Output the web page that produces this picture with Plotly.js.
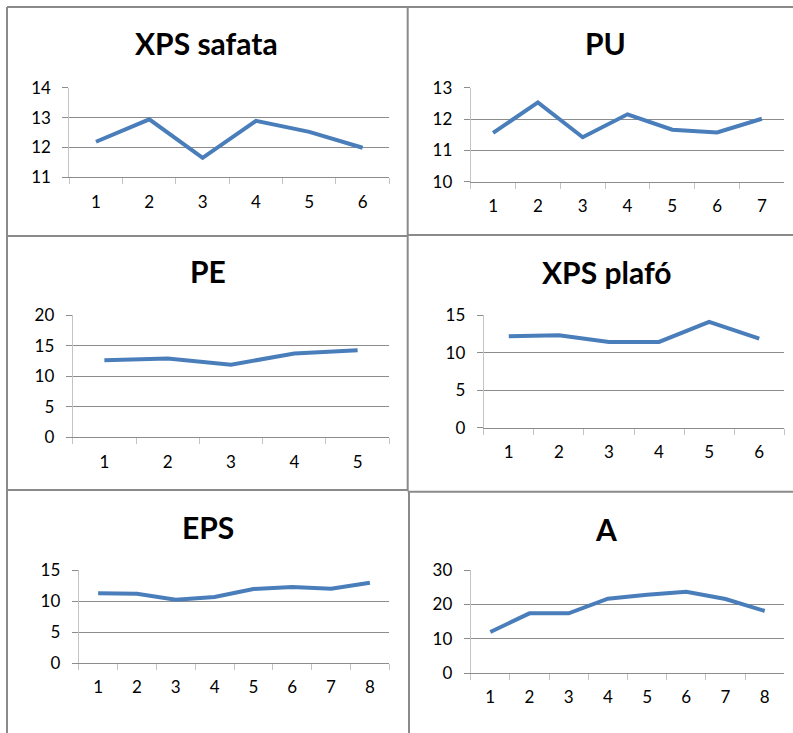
<!DOCTYPE html>
<html>
<head>
<meta charset="utf-8">
<script src="https://cdn.plot.ly/plotly-3.0.1.min.js"></script>
<style>
  html, body { margin: 0; padding: 0; background: #ffffff; }
  #chart { width: 793px; height: 733px; }
</style>
</head>
<body>
<div id="chart"></div>
<script>
// Panel titles, in reading order (left to right, top to bottom)
const panelTitles = ['XPS safata', 'PU', 'PE', 'XPS plafó', 'EPS', 'A'];

// Category tick labels along each horizontal axis
const categoryLabels = ['1', '2', '3', '4', '5', '6', '7', '8'];

// Measured values per panel
const safataValues = [12.19, 12.94, 11.65, 12.89, 12.52, 11.99];
const puValues     = [11.56, 12.53, 11.42, 12.15, 11.66, 11.57, 12.01];
const peValues     = [12.62, 12.90, 11.91, 13.72, 14.26];
const plafoValues  = [12.19, 12.33, 11.44, 11.44, 14.11, 11.88];
const epsValues    = [11.28, 11.22, 10.25, 10.69, 11.98, 12.30, 12.03, 13.00];
const aValues      = [11.94, 17.38, 17.38, 21.65, 22.80, 23.69, 21.55, 18.06];

// Value-axis ranges and steps
const yRanges = [[11, 14], [10, 13], [0, 20], [0, 15], [0, 15], [0, 30]];
const ySteps  = [1, 1, 5, 5, 5, 10];

const W = 793, H = 733;
const fx = p => p / W;
const fy = p => 1 - p / H;

// Plot-area boxes in pixels: [left, right, top, bottom]
const boxes = [
  [69.3, 389.3, 87.7, 177.3],
  [470.7, 784.3, 87.7, 181.7],
  [72.7, 389.3, 315.3, 437.3],
  [483.7, 784.3, 315.3, 427.7],
  [78.7, 389.3, 570.3, 663.0],
  [470.7, 784.3, 570.0, 673.0]
];

// Title centres in pixels: [x, y]
const titlePos = [
  [207, 43], [605, 43], [208, 271], [606, 271.5], [208.5, 527], [606, 529]
];

const series = [safataValues, puValues, peValues, plafoValues, epsValues, aValues];

const LINE_BLUE = '#4a7ebb';
const GRID = '#8c8c8c';
const AXIS_LIGHT = '#c4c4c4';
const FONT = 'Lato, "Open Sans", sans-serif';

const traces = [];
const layout = {
  width: W, height: H,
  margin: {l: 0, r: 0, t: 0, b: 0},
  paper_bgcolor: '#ffffff',
  plot_bgcolor: '#ffffff',
  showlegend: false,
  font: {family: FONT, color: '#000000', size: 17},
  annotations: [],
  shapes: []
};

series.forEach((vals, i) => {
  const n = i + 1;
  const xs = n === 1 ? '' : String(n);
  const cats = categoryLabels.slice(0, vals.length);
  traces.push({
    type: 'scatter',
    mode: 'lines',
    x: cats,
    y: vals,
    xaxis: 'x' + xs,
    yaxis: 'y' + xs,
    line: {color: LINE_BLUE, width: 4},
    hoverinfo: 'skip'
  });
  const b = boxes[i];
  layout['xaxis' + xs] = {
    type: 'category',
    domain: [fx(b[0]), fx(b[1])],
    anchor: 'y' + xs,
    range: [-0.5, vals.length - 0.5],
    tickson: 'boundaries',
    ticks: 'outside',
    ticklen: 6,
    tickwidth: 1,
    tickcolor: AXIS_LIGHT,
    showline: true,
    linecolor: GRID,
    linewidth: 1,
    showgrid: false,
    zeroline: false,
    ticklabelstandoff: 9,
    tickfont: {family: FONT, size: 17, color: '#000000'},
    fixedrange: true
  };
  layout['yaxis' + xs] = {
    domain: [fy(b[3]), fy(b[2])],
    anchor: 'x' + xs,
    range: yRanges[i],
    dtick: ySteps[i],
    tick0: 0,
    ticks: 'outside',
    ticklen: 6,
    tickwidth: 1,
    tickcolor: GRID,
    showline: true,
    linecolor: AXIS_LIGHT,
    linewidth: 1,
    showgrid: true,
    gridcolor: GRID,
    gridwidth: 1,
    zeroline: false,
    ticklabelstandoff: 8,
    tickfont: {family: FONT, size: 17, color: '#000000'},
    fixedrange: true
  };
  layout.annotations.push({
    text: '<b>' + panelTitles[i] + '</b>',
    xref: 'paper', yref: 'paper',
    x: fx(titlePos[i][0]), y: fy(titlePos[i][1]),
    xanchor: 'center', yanchor: 'middle',
    showarrow: false,
    font: {family: FONT, size: 30, color: '#000000'}
  });
});

// Cell frame lines
const BORDER = '#8a8a8a';
const seg = (x0, y0, x1, y1) => ({
  type: 'line', xref: 'paper', yref: 'paper',
  x0: fx(x0), y0: fy(y0), x1: fx(x1), y1: fy(y1),
  line: {color: BORDER, width: 2}
});
layout.shapes.push(
  seg(7, 7, 793, 7),
  seg(7, 7, 7, 733),
  seg(407.7, 7, 407.7, 491),
  seg(409, 491, 409, 733),
  seg(7, 236, 407.7, 236),
  seg(407.7, 235, 793, 235),
  seg(7, 490, 407.7, 490),
  seg(407.7, 491.7, 793, 491.7)
);

Plotly.newPlot('chart', traces, layout, {displayModeBar: false, staticPlot: true});
</script>
</body>
</html>
